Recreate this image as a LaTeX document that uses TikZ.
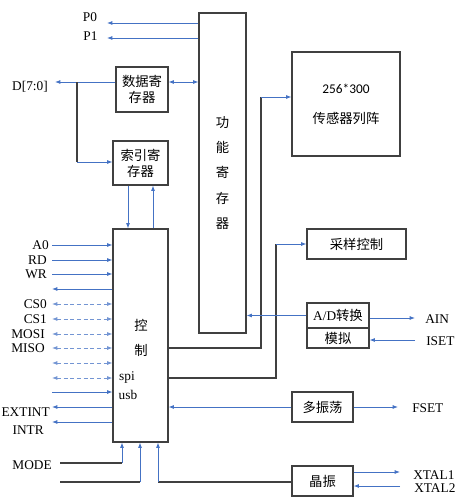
\documentclass[tikz,border=0pt]{standalone}
\usepackage{fontspec}
\setmainfont{Liberation Serif}
\newfontfamily\cjk{Noto Sans CJK SC}
\newfontfamily\numfont{Carlito}
\usetikzlibrary{arrows.meta}
\usetikzlibrary{positioning}
\definecolor{lineblue}{RGB}{68,114,196}
\definecolor{boxgray}{RGB}{64,64,64}

\begin{document}
\begin{tikzpicture}[x=0.75pt, y=-0.75pt, >={Latex[length=4pt,width=3pt]}]
    \tikzset{
        box/.style 2 args={draw=boxgray, line width=0.8pt, minimum width=#1*0.75pt,
            minimum height=#2*0.75pt, inner sep=0pt, align=center, font=\cjk},
        sig/.style={lineblue, line width=0.7pt},
        dsig/.style={lineblue!75, line width=0.7pt, densely dashed},
        wire/.style={boxgray, line width=0.8pt},
        lbl/.style={inner sep=0pt}
    }
    \useasboundingbox (0,0) rectangle (466,500);

    % blocks
    \node[box={47}{320}] (func) at (222.5,173) {功\\[7pt]能\\[7pt]寄\\[7pt]存\\[7pt]器};
    \node[box={108}{104}] (sensor) at (346,104) {{\numfont 256*300}\\[10.5pt]传感器列阵};
    \node[box={52}{45}] (data) at (142,89.5) {数据寄\\存器};
    \node[box={55}{44}] (index) at (140.5,163) {索引寄\\存器};
    \node[box={55}{213}] (ctrl) at (140.5,335.5) {};
    \node[font=\cjk] (kong) at (141,325) {控};
    \node[font=\cjk] (zhi) at (141,350) {制};
    \node[lbl] (spi) at (127,378) {spi};
    \node[lbl] (usb) at (128,395) {usb};
    \node[box={99}{30}] (sample) at (356.5,244) {采样控制};
    \node[box={62}{25}] (ad) at (338,315.5) {{\rmfamily A/D}转换};
    \node[box={62}{20}] (sim) at (338,338) {模拟};
    \node[box={61}{30}] (osc) at (322.5,407) {多振荡};
    \node[box={61}{30}] (xtal) at (322.5,481) {晶振};

    % top outputs
    \coordinate (p0) at (107,23);
    \coordinate (p1) at (107,38);
    \node[lbl] (P0) at (90,17) {P0};
    \node[lbl] (P1) at (90.5,36) {P1};
    \draw[sig, ->] (p0 -| func.west) -- (p0);
    \draw[sig, ->] (p1 -| func.west) -- (p1);

    % data bus
    \coordinate (dbus) at (55,82);
    \coordinate (dsplit) at (77,82);
    \node[lbl] (D) at (30,87) {D[7:0]};
    \draw[sig, ->] (dbus -| data.west) -- (dbus);
    \draw[sig, <->] (dbus -| data.east) -- (dbus -| func.west);
    \draw[wire] (dsplit) -- (77,162);
    \draw[sig, ->] (77,162) -- (77,162 -| index.west);
    \draw[sig, ->] (128,0 |- index.south) -- (128,0 |- ctrl.north);
    \draw[sig, ->] (153,0 |- ctrl.north) -- (153,0 |- index.south);

    % left signals
    \node[lbl, anchor=east] (A0) at (49,245) {A0};
    \node[lbl, anchor=east] (RD) at (47,260) {RD};
    \node[lbl, anchor=east] (WR) at (47,274) {WR};
    \node[lbl, anchor=east] (CS0) at (47,304) {CS0};
    \node[lbl, anchor=east] (CS1) at (47,319) {CS1};
    \node[lbl, anchor=east] (MOSI) at (45,334) {MOSI};
    \node[lbl, anchor=east] (MISO) at (45,348) {MISO};
    \node[lbl, anchor=east] (EXTINT) at (50,412) {EXTINT};
    \node[lbl, anchor=east] (INTR) at (44,430) {INTR};

    \coordinate (s1) at (52,245);
    \coordinate (s2) at (52,260);
    \coordinate (s3) at (52,274);
    \coordinate (s4) at (52,289);
    \coordinate (s5) at (52,304);
    \coordinate (s6) at (52,319);
    \coordinate (s7) at (52,334);
    \coordinate (s8) at (52,348);
    \coordinate (s9) at (52,363);
    \coordinate (s10) at (52,378);
    \coordinate (s11) at (52,392);
    \coordinate (s12) at (52,407);
    \coordinate (s13) at (52,422);
    \draw[sig, ->] (s1) -- (s1 -| ctrl.west);
    \draw[sig, ->] (s2) -- (s2 -| ctrl.west);
    \draw[sig, ->] (s3) -- (s3 -| ctrl.west);
    \draw[sig, <-] (s4) -- (s4 -| ctrl.west);
    \draw[dsig, <->] (s5) -- (s5 -| ctrl.west);
    \draw[dsig, <->] (s6) -- (s6 -| ctrl.west);
    \draw[dsig, <->] (s7) -- (s7 -| ctrl.west);
    \draw[dsig, <->] (s8) -- (s8 -| ctrl.west);
    \draw[dsig, <->] (s9) -- (s9 -| ctrl.west);
    \draw[dsig, <->] (s10) -- (s10 -| ctrl.west);
    \draw[sig, ->] (s11) -- (s11 -| ctrl.west);
    \draw[sig, <-] (s12) -- (s12 -| ctrl.west);
    \draw[sig, <-] (s13) -- (s13 -| ctrl.west);

    % control to sensor array and sampling
    \coordinate (c1) at (261,348);
    \coordinate (c2) at (276,378);
    \draw[wire] (c1 -| ctrl.east) -- (c1) -- (261,97);
    \draw[sig, ->] (261,97) -- (261,97 -| sensor.west);
    \draw[wire] (c2 -| ctrl.east) -- (c2) -- (276,244);
    \draw[sig, ->] (276,244) -- (sample.west);

    % A/D
    \coordinate (ain) at (415,318);
    \coordinate (iset) at (415,340);
    \draw[sig, ->] (ad.west) -- (ad.west -| func.east);
    \draw[sig, ->] (ain -| ad.east) -- (ain);
    \draw[sig, ->] (iset) -- (iset -| sim.east);
    \node[lbl, anchor=west] (AIN) at (425,319) {AIN};
    \node[lbl, anchor=west] (ISET) at (426,341) {ISET};

    % oscillator
    \coordinate (fset) at (398,407);
    \draw[sig, ->] (osc.west) -- (osc.west -| ctrl.east);
    \draw[sig, ->] (osc.east) -- (fset);
    \node[lbl, anchor=west] (FSET) at (412,408) {FSET};

    % crystal
    \coordinate (x1) at (400,472);
    \coordinate (x2) at (400,486);
    \draw[sig, ->] (x1 -| xtal.east) -- (x1);
    \draw[sig, ->] (x2) -- (x2 -| xtal.east);
    \node[lbl, anchor=west] (XTAL1) at (413,475) {XTAL1};
    \node[lbl, anchor=west] (XTAL2) at (414,488) {XTAL2};
    \draw[wire] (xtal.west |- 0,482) -- (158,482);
    \draw[sig, ->] (158,482) -- (158,0 |- ctrl.south);

    % bottom inputs
    \coordinate (m1) at (60,463);
    \coordinate (m2) at (60,482);
    \node[lbl, anchor=east] (MODE) at (52,465) {MODE};
    \draw[wire] (m1) -- (122,463);
    \draw[sig, ->] (122,463) -- (122,0 |- ctrl.south);
    \draw[wire] (m2) -- (140,482);
    \draw[sig, ->] (140,482) -- (140,0 |- ctrl.south);

\end{tikzpicture}
\end{document}
